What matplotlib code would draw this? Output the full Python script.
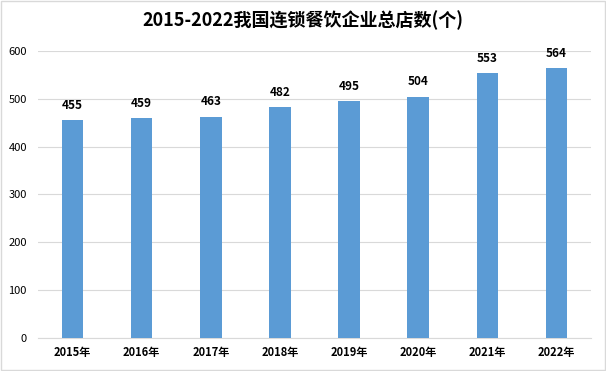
import numpy as np
import matplotlib.pyplot as plt
from matplotlib.patches import Rectangle

plt.rcParams["font.family"] = ["Noto Sans CJK SC", "DejaVu Sans"]

years = ["2015年", "2016年", "2017年", "2018年", "2019年", "2020年", "2021年", "2022年"]
stores = [455, 459, 463, 482, 495, 504, 553, 564]

blue = "#5B9BD5"
grid = "#D9D9D9"

fig = plt.figure(figsize=(6.06, 3.71), dpi=100)
ax = fig.add_axes([38 / 606, 33 / 371, 553 / 606, 287 / 371])

x = np.arange(len(years))
ax.bar(x, stores, width=0.31, color=blue, zorder=3)
for xi, v in zip(x, stores):
    ax.text(xi, v + 18, str(v), ha="center", va="bottom",
            fontsize=8.5, fontweight="bold", color="#000000")

ax.set_xlim(-0.5, len(years) - 0.5)
ax.set_ylim(0, 600)
ax.set_yticks(np.arange(0, 601, 100))
ax.set_xticks(x)
ax.set_xticklabels(years, fontsize=8, fontweight="bold")
ax.tick_params(axis="y", labelsize=8, length=0, pad=8)
ax.tick_params(axis="x", length=0, pad=6)
ax.yaxis.grid(True, color=grid, lw=0.8, zorder=0)
for s in ["top", "right", "left"]:
    ax.spines[s].set_visible(False)
ax.spines["bottom"].set_color(grid)

fig.text(0.5, 0.945, "2015-2022我国连锁餐饮企业总店数(个)", ha="center",
         va="center", fontsize=13, fontweight="bold")

fig.patches.append(Rectangle((0.002, 0.003), 0.996, 0.994, transform=fig.transFigure,
                             fill=False, ec="#D9D9D9", lw=1))

fig.savefig("out.png", dpi=100)
